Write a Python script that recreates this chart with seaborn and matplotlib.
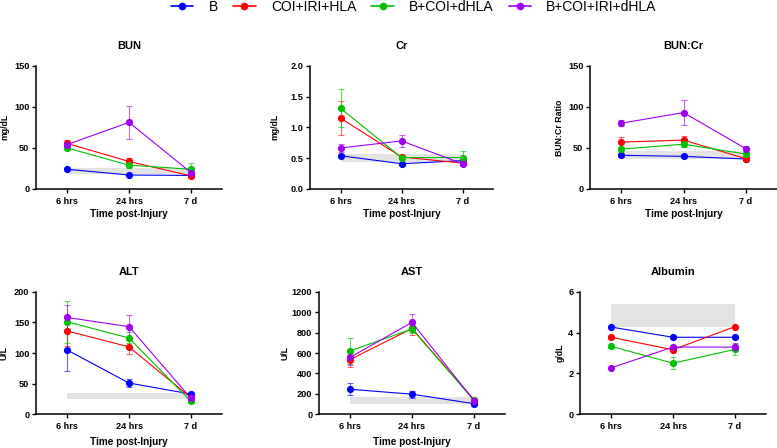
import numpy as np
import pandas as pd
import matplotlib
matplotlib.use("Agg")
import matplotlib.pyplot as plt
import seaborn as sns
from matplotlib.lines import Line2D

# ---------------- data ----------------
times = ["6 hrs", "24 hrs", "7 d"]
groups = ["B", "COI+IRI+HLA", "B+COI+dHLA", "B+COI+IRI+dHLA"]
colors = ["#0000FF", "#FF0000", "#00C000", "#A000F0"]

bun_mean = [[24, 17, 16.5], [55.5, 33.5, 16], [50, 29, 24], [54, 81, 20]]
bun_err = [[1, 0.5, 0.5], [4, 4.5, 1.5], [2, 3, 7.5], [2, 20.5, 2]]
bun_ref = [18, 26]

cr_mean = [[0.54, 0.41, 0.46], [1.15, 0.52, 0.42], [1.31, 0.51, 0.51], [0.665, 0.78, 0.41]]
cr_err = [[0.02, 0.02, 0.02], [0.27, 0.02, 0.02], [0.31, 0.03, 0.1], [0.06, 0.1, 0.02]]
cr_ref = [0.44, 0.56]

ratio_mean = [[41, 39.7, 36.5], [57, 59.5, 37], [48.5, 54.5, 42.5], [80, 93, 49]]
ratio_err = [[2, 1, 1], [6, 5, 1], [3, 4, 2], [3.5, 15, 3.5]]
ratio_ref = [36, 46]

alt_mean = [[105, 51, 33], [136, 110, 27], [151, 124.5, 21], [158, 143, 26]]
alt_err = [[34, 7, 2], [24, 12, 2], [34, 9, 2], [20, 19, 2]]
alt_ref = [25, 34]

ast_mean = [[245, 197, 104], [535, 840, 143], [620, 835, 137], [557, 900, 134]]
ast_err = [[58, 33, 10], [75, 62, 20], [128, 40, 15], [75, 78, 15]]
ast_ref = [101, 166]

alb_mean = [[4.27, 3.77, 3.77], [3.77, 3.16, 4.29], [3.33, 2.5, 3.18], [2.27, 3.29, 3.29]]
alb_err = [[0.02, 0.02, 0.02], [0.08, 0.08, 0.02], [0.08, 0.29, 0.28], [0.02, 0.05, 0.18]]
alb_ref = [4.29, 5.4]

panels = [
    dict(title="BUN", ylabel="mg/dL", mean=bun_mean, err=bun_err, ref=bun_ref,
         yticks=[0, 50, 100, 150], fmt="{:.0f}", xlabel=True),
    dict(title="Cr", ylabel="mg/dL", mean=cr_mean, err=cr_err, ref=cr_ref,
         yticks=[0, 0.5, 1.0, 1.5, 2.0], fmt="{:.1f}", xlabel=True),
    dict(title="BUN:Cr", ylabel="BUN:Cr Ratio", mean=ratio_mean, err=ratio_err, ref=ratio_ref,
         yticks=[0, 50, 100, 150], fmt="{:.0f}", xlabel=True),
    dict(title="ALT", ylabel="U/L", mean=alt_mean, err=alt_err, ref=alt_ref,
         yticks=[0, 50, 100, 150, 200], fmt="{:.0f}", xlabel=True),
    dict(title="AST", ylabel="U/L", mean=ast_mean, err=ast_err, ref=ast_ref,
         yticks=[0, 200, 400, 600, 800, 1000, 1200], fmt="{:.0f}", xlabel=True),
    dict(title="Albumin", ylabel="g/dL", mean=alb_mean, err=alb_err, ref=alb_ref,
         yticks=[0, 2, 4, 6], fmt="{:.0f}", xlabel=False),
]

# ---------------- layout (pixel boxes) ----------------
W, H = 777, 448
# (left, right, top, bottom, ylabel center x)
boxes = [
    (36, 222, 65.7, 189, 5),
    (310, 493, 65.7, 189, 275),
    (590, 777, 65.7, 189, 560),
    (36, 222, 291.7, 414.3, 4),
    (319, 505, 291.7, 414.3, 285),
    (580, 766, 291.7, 414.3, 560),
]

sns.set_theme(style="ticks")
plt.rcParams["font.family"] = ["Liberation Sans", "DejaVu Sans"]
plt.rcParams.update({"text.color": "black", "axes.labelcolor": "black",
                     "xtick.color": "black", "ytick.color": "black",
                     "axes.titlecolor": "black"})

fig = plt.figure(figsize=(W / 100, H / 100), dpi=100)

for p, (l, r, t, b, ylx) in zip(panels, boxes):
    ax = fig.add_axes([l / W, 1 - b / H, (r - l) / W, (b - t) / H])
    pos = np.arange(len(times))
    rows = []
    for g, m in zip(groups, p["mean"]):
        for i, v in enumerate(m):
            rows.append(dict(group=g, pos=pos[i], value=v))
    df = pd.DataFrame(rows)

    # reference range band
    ax.fill_between([pos[0], pos[-1]], p["ref"][0], p["ref"][1],
                    color="#e3e3e3", lw=0, zorder=0)

    for g, c, m, e in zip(groups, colors, p["mean"], p["err"]):
        ax.errorbar(pos, m, yerr=e, fmt="none", ecolor=c, elinewidth=0.8,
                    capsize=2.5, capthick=0.8, alpha=0.6, zorder=2)

    sns.lineplot(data=df, x="pos", y="value", hue="group", hue_order=groups,
                 palette=colors, marker="o", markersize=5.2, markeredgewidth=0,
                 linewidth=0.8, legend=False, ax=ax, errorbar=None, zorder=3)

    ax.set_xlim(-0.5, 2.5)
    ax.set_ylim(p["yticks"][0], p["yticks"][-1])
    ax.set_xticks(pos)
    ax.set_xticklabels(times, fontsize=6.6, fontweight="bold", color="black")
    ax.set_yticks(p["yticks"])
    ax.set_yticklabels([p["fmt"].format(v) for v in p["yticks"]],
                       fontsize=6.6, fontweight="bold", color="black")
    for s in ["top", "right"]:
        ax.spines[s].set_visible(False)
    for s in ["left", "bottom"]:
        ax.spines[s].set_linewidth(1.1)
        ax.spines[s].set_color("black")
    ax.tick_params(direction="out", length=3, width=1.0, color="black", pad=1.8)
    ax.tick_params(axis="x", pad=2.5)

    ax.set_title(p["title"], fontsize=8, fontweight="bold", color="black",
                 y=1 + 19.7 / (b - t), va="center", pad=0)
    ax.set_ylabel(p["ylabel"], fontsize=6.3, fontweight="bold", color="black")
    ax.yaxis.label.set_va("center")
    ax.yaxis.set_label_coords((ylx - l) / (r - l), 0.5)
    if p["xlabel"]:
        ax.set_xlabel("Time post-Injury", fontsize=7.2, fontweight="bold", color="black")
        ax.xaxis.label.set_va("center")
        ax.xaxis.set_label_coords(0.5, -(27.5 if t > 200 else 25) / (b - t))
    else:
        ax.set_xlabel("")
    ax.grid(False)
    ax.set_facecolor("white")

handles = [Line2D([0], [0], color=c, marker="o", markersize=5.5,
                  markeredgewidth=0, linewidth=1.2) for c in colors]
fig.legend(handles, groups, loc="center", bbox_to_anchor=(414 / W, 1 - 7 / H),
           ncol=4, frameon=False, fontsize=10, handlelength=1.6,
           handletextpad=1.1, columnspacing=1.1, borderpad=0)

fig.savefig("out.png", dpi=100, facecolor="white")
